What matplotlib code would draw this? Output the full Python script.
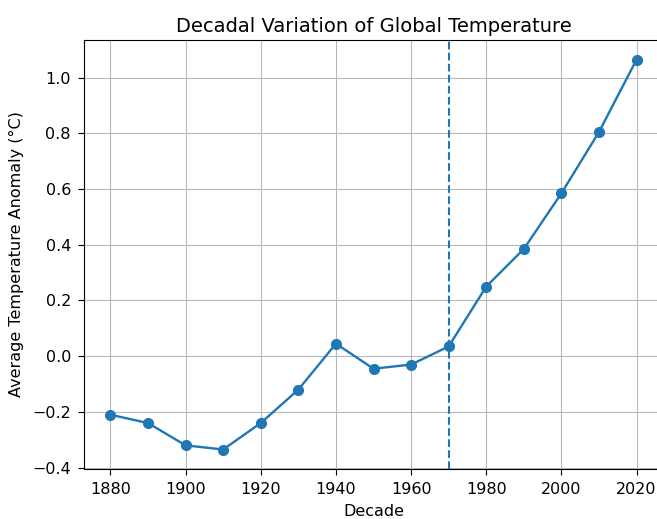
import matplotlib
matplotlib.use("Agg")
import matplotlib.pyplot as plt

# decade averages
decades = [1880, 1890, 1900, 1910, 1920, 1930, 1940, 1950,
           1960, 1970, 1980, 1990, 2000, 2010, 2020]
anomalies = [-0.21, -0.24, -0.32, -0.335, -0.24, -0.12, 0.045, -0.045,
             -0.03, 0.035, 0.25, 0.385, 0.585, 0.805, 1.065]
marker_decade = 1970
x_ticks = [1880, 1900, 1920, 1940, 1960, 1980, 2000, 2020]

fig = plt.figure(figsize=(6.57, 5.19), dpi=100)
# the right spine falls just outside the picture, as in the reference
ax = fig.add_axes([0.128, 0.0963, 0.881, 0.8266])

ax.plot(decades, anomalies, marker='o', color='tab:blue', linewidth=1.7, markersize=7)
ax.axvline(marker_decade, color='tab:blue', linestyle='--', linewidth=1.5)

ax.set_xticks(x_ticks)
ax.tick_params(labelsize=11.5, length=4.5, pad=5)
ax.set_title('Decadal Variation of Global Temperature', fontsize=14)
ax.set_xlabel('Decade', fontsize=11.5, labelpad=5)
ax.set_ylabel('Average Temperature Anomaly (°C)', fontsize=11.5, labelpad=6)
ax.grid(True, color='#b8b8b8')

fig.savefig('out.png', dpi=100)
